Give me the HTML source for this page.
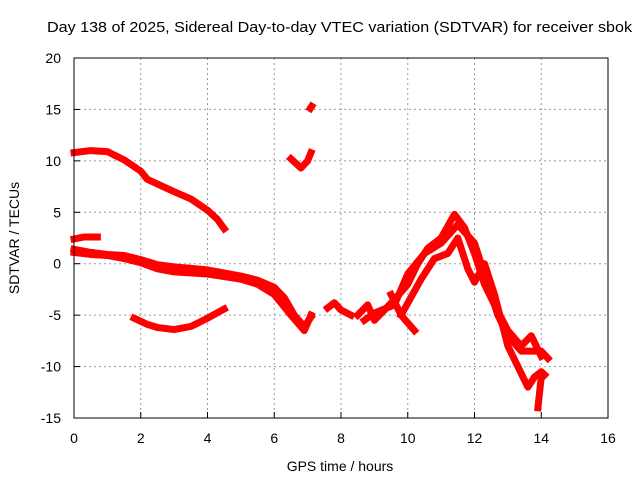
<!DOCTYPE html>
<html><head><meta charset="utf-8"><style>
body{margin:0;background:#fff}
svg{display:block;font-family:"Liberation Sans",sans-serif}
</style></head><body>
<svg id="chart" width="640" height="480">
<text x="47" y="32" font-size="15" textLength="585" lengthAdjust="spacingAndGlyphs">Day 138 of 2025, Sidereal Day-to-day VTEC variation (SDTVAR) for receiver sbok</text>
<text x="340" y="471" font-size="14" text-anchor="middle">GPS time / hours</text>
<text transform="translate(19,238) rotate(-90)" font-size="14" text-anchor="middle">SDTVAR / TECUs</text>
<g id="grid"></g><g id="series"></g>
<rect x="74" y="58" width="534" height="360" fill="none" stroke="#000"/>
</svg>
<script>
const xTicks=[0,2,4,6,8,10,12,14,16];
const yTicks=[-15,-10,-5,0,5,10,15,20];
const s1x=[0,0.5,1,1.5,2,2.2,2.6,3,3.5,4,4.3,4.5];
const s1y=[10.8,11,10.9,10.1,9,8.2,7.6,7,6.3,5.2,4.3,3.4];
const s2x=[0,0.3,0.7];
const s2y=[2.4,2.6,2.6];
const s3x=[0,0.5,1,1.5,2,2.5,3,4,5,5.5,6,6.3,6.6,6.9,7.1];
const s3y=[1.4,1.1,0.9,0.8,0.4,-0.1,-0.3,-0.6,-1.2,-1.6,-2.3,-3.3,-5,-6.1,-5.2];
const s4x=[0,0.5,1,1.5,2,2.5,3,4,5,5.5,6,6.5,6.9,7.1];
const s4y=[1.1,0.9,0.8,0.5,0.1,-0.5,-0.8,-1,-1.5,-2,-3,-5,-6.5,-5];
const s5x=[1.8,2.2,2.5,3,3.5,4,4.5];
const s5y=[-5.3,-5.9,-6.2,-6.4,-6.1,-5.3,-4.4];
const s6x=[6.5,6.8,7,7.1];
const s6y=[10.2,9.3,10,10.8];
const s7x=[7.08,7.12];
const s7y=[15.1,15.3];
const s8x=[7.6,7.8,8,8.3];
const s8y=[-4.3,-3.8,-4.5,-5];
const s9x=[8.5,8.8,9,9.3,9.6,10,10.3,10.6,11,11.4,11.7,12,12.3,12.6,13,13.4,13.7,14];
const s9y=[-5,-4,-5.5,-4.5,-3.5,-2,0,1.5,2.5,4.8,3.5,1,-2,-4,-6.5,-8,-7,-9];
const s10x=[8.7,9,9.6,10,10.5,11,11.5,12,12.3,12.7,13,13.4,14,14.2];
const s10y=[-5.5,-4.8,-4,-1,1,2,3.8,2,-1,-5,-7,-8.5,-8.5,-9.2];
const s11x=[9.5,9.8,10.2];
const s11y=[-3,-5,-6.5];
const s12x=[9.8,10.4,10.8,11.2,11.5,11.8,12,12.3,12.6,13,13.3,13.6,13.8,14,14.1];
const s12y=[-5,-1.5,0.5,1,2.5,-0.5,-1.8,0,-3,-8,-10,-12,-11,-10.5,-10.8];
const s13x=[14,13.9];
const s13y=[-11,-14];
const X=v=>74+v*534/16, Y=v=>58+(20-v)*360/35;
const NS="http://www.w3.org/2000/svg";
const g=document.getElementById('grid'), sg=document.getElementById('series');
function mk(tag,attrs){const e=document.createElementNS(NS,tag);for(const k in attrs)e.setAttribute(k,attrs[k]);return e;}
xTicks.forEach(t=>{
 if(t>0&&t<16){const l=mk('line',{x1:X(t),x2:X(t),y1:58,y2:418,stroke:'#999','stroke-dasharray':'2,3'});
 
 g.appendChild(l);}
 const tk=mk('line',{x1:X(t),x2:X(t),y1:412,y2:418,stroke:'#000'});
 
 g.appendChild(tk);
 const tx=mk('text',{x:X(t),y:443,'font-size':14,'text-anchor':'middle'});tx.textContent=t;
 
 g.appendChild(tx);
});
yTicks.forEach(t=>{
 if(t>-15&&t<20){const l=mk('line',{x1:74,x2:608,y1:Y(t),y2:Y(t),stroke:'#999','stroke-dasharray':'2,3'});
 
 g.appendChild(l);}
 const tk=mk('line',{x1:74,x2:80,y1:Y(t),y2:Y(t),stroke:'#000'});
 
 g.appendChild(tk);
 const tx=mk('text',{x:61,y:Y(t)+5,'font-size':14,'text-anchor':'end'});tx.textContent=t;
 
 g.appendChild(tx);
});
[[s1x,s1y],[s2x,s2y],[s3x,s3y],[s4x,s4y],[s5x,s5y],[s6x,s6y],[s7x,s7y],[s8x,s8y],[s9x,s9y],[s10x,s10y],[s11x,s11y],[s12x,s12y],[s13x,s13y]].forEach(([xs,ys])=>{
 const p=mk('polyline',{points:xs.map((x,i)=>X(x)+','+Y(ys[i])).join(' '),fill:'none',stroke:'#f00','stroke-width':7,'stroke-linejoin':'round','stroke-linecap':'square'});
 
 
 sg.appendChild(p);
});
</script>
</body></html>
